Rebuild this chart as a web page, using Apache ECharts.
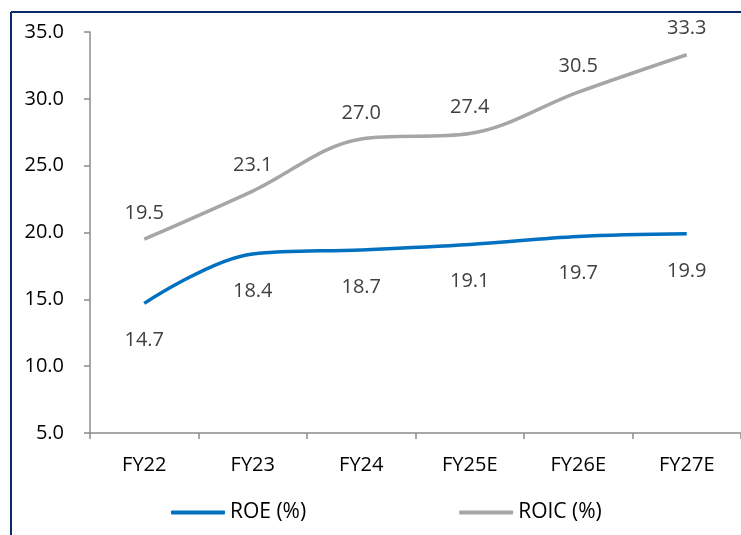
<!DOCTYPE html>
<html><head><meta charset="utf-8">
<script src="https://cdn.jsdelivr.net/npm/echarts@6/dist/echarts.min.js"></script>
<style>html,body{margin:0;padding:0;background:#fff}#c{width:741px;height:535px}</style>
</head><body><div id="c"></div>
<script>
const categories = ['FY22','FY23','FY24','FY25E','FY26E','FY27E'];
const roe = [14.7, 18.4, 18.7, 19.1, 19.7, 19.9];
const roic = [19.5, 23.1, 27.0, 27.4, 30.5, 33.3];
const FONT = 'Open Sans';
const FS = 20;
const chart = echarts.init(document.getElementById('c'));
chart.setOption({
  animation: false,
  textStyle: {fontFamily: FONT},
  graphic: [
    {type:'line', shape:{x1:11, y1:12, x2:11, y2:535}, style:{stroke:'#0b2a6b', lineWidth:2}},
    {type:'line', shape:{x1:11, y1:12, x2:741, y2:12}, style:{stroke:'#0b2a6b', lineWidth:2}}
  ],
  grid: {left: 90, top: 32, width: 654, height: 401},
  legend: {
    bottom: 7, left: 166, itemGap: 153, itemWidth: 54, itemHeight: 4,
    textStyle: {fontFamily: FONT, fontSize: 21, color: '#000'},
    data: [{name:'ROE (%)', icon:'roundRect'}, {name:'ROIC (%)', icon:'roundRect'}]
  },
  xAxis: {
    type: 'category', data: categories, boundaryGap: true,
    axisLine: {lineStyle: {color: '#8c8c8c', width: 1.5}},
    axisTick: {show: true, length: 6, lineStyle: {color: '#8c8c8c', width: 1.5}},
    axisLabel: {fontFamily: FONT, fontSize: FS, color: '#000', margin: 22}
  },
  yAxis: {
    type: 'value', min: 5, max: 35, interval: 5,
    axisLine: {show: true, lineStyle: {color: '#8c8c8c', width: 1.5}},
    axisTick: {show: true, length: 6, lineStyle: {color: '#8c8c8c', width: 1.5}},
    splitLine: {show: false},
    axisLabel: {fontFamily: FONT, fontSize: FS, color: '#000', margin: 26, formatter: v => v.toFixed(1)}
  },
  series: [
    {name:'ROE (%)', type:'line', data: roe, smooth: 0.35, symbol:'circle', symbolSize: 0.01, showSymbol: true,
     color:'#0070C0',
     lineStyle:{width:3.5},
     label:{show:true, position:'bottom', distance: 27, fontFamily: FONT, fontSize: FS, color:'#404040', formatter: p => p.value.toFixed(1)}},
    {name:'ROIC (%)', type:'line', data: roic, smooth: 0.35, symbol:'circle', symbolSize: 0.01, showSymbol: true,
     color:'#A6A6A6',
     lineStyle:{width:3.5},
     label:{show:true, position:'top', distance: 16, fontFamily: FONT, fontSize: FS, color:'#404040', formatter: p => p.value.toFixed(1)}}
  ]
});
</script></body></html>
